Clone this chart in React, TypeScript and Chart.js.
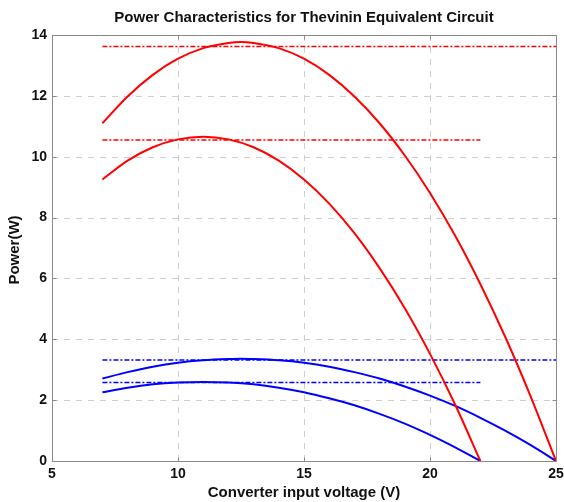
import React, { useEffect, useRef } from "react";
import { Chart, registerables } from "chart.js";

Chart.register(...registerables);

// Converter input voltage samples (V) for the two open-circuit voltages
const voltsOc25 = [7, 8, 9, 10, 11, 12, 12.5, 13, 14, 15, 16, 17, 18, 19, 20, 21, 22, 23, 24, 25];
const voltsOc22 = [7, 8, 9, 10, 11, 12, 13, 14, 15, 16, 17, 18, 19, 20, 21, 22];

// Power curves (W)
const redHigh = [11.1, 11.98, 12.69, 13.22, 13.57, 13.74, 13.77, 13.74, 13.57, 13.22, 12.69, 11.98, 11.1, 10.04, 8.81, 7.4, 5.81, 4.05, 2.11, 0];
const redLow = [9.25, 9.87, 10.31, 10.57, 10.66, 10.57, 10.31, 9.87, 9.25, 8.46, 7.49, 6.34, 5.02, 3.52, 1.85, 0];
const blueHigh = [2.71, 2.92, 3.1, 3.23, 3.31, 3.35, 3.36, 3.35, 3.31, 3.23, 3.1, 2.92, 2.71, 2.45, 2.15, 1.81, 1.42, 0.99, 0.52, 0];
const blueLow = [2.26, 2.41, 2.52, 2.58, 2.6, 2.58, 2.52, 2.41, 2.26, 2.06, 1.83, 1.55, 1.23, 0.86, 0.45, 0];

// Maximum power reference levels (W) and their voltage spans
const mppSpan25 = [7, 25];
const mppSpan22 = [7, 22];
const mppRed = [13.62, 10.55];
const mppBlue = [3.32, 2.58];

const xTicks = [5, 10, 15, 20, 25];
const yTicks = [0, 2, 4, 6, 8, 10, 12, 14];

const TITLE = "Power Characteristics for Thevinin Equivalent Circuit";
const X_TITLE = "Converter input voltage (V)";
const Y_TITLE = "Power(W)";

const FONT = '"Liberation Sans", Arial, Helvetica, sans-serif';
const RED = "#ff0000";
const BLUE = "#0000ff";

const pts = (xs: number[], ys: number[]) => xs.map((x, i) => ({ x, y: ys[i] }));
const level = (span: number[], y: number) => span.map((x) => ({ x, y }));

const curve = (data: { x: number; y: number }[], color: string) => ({
  data,
  borderColor: color,
  borderWidth: 2,
  pointRadius: 0,
  showLine: true,
  fill: false,
  cubicInterpolationMode: "monotone" as const,
});

const dashDot = (data: { x: number; y: number }[], color: string) => ({
  data,
  borderColor: color,
  borderWidth: 1.6,
  borderDash: [5, 2, 2, 2],
  pointRadius: 0,
  showLine: true,
  fill: false,
});

// Dashed grid, box frame with inner ticks, and the text around the plot
const framePlugin = {
  id: "frame",
  beforeDatasetsDraw(chart: any) {
    const { ctx, chartArea: a, scales } = chart;
    ctx.save();
    ctx.strokeStyle = "#cfcfcf";
    ctx.lineWidth = 1;
    ctx.setLineDash([6, 6]);
    xTicks.slice(1, -1).forEach((v) => {
      const x = Math.round(scales.x.getPixelForValue(v)) + 0.5;
      ctx.beginPath();
      ctx.moveTo(x, a.top);
      ctx.lineTo(x, a.bottom);
      ctx.stroke();
    });
    yTicks.slice(1, -1).forEach((v) => {
      const y = Math.round(scales.y.getPixelForValue(v)) + 0.5;
      ctx.beginPath();
      ctx.moveTo(a.left, y);
      ctx.lineTo(a.right, y);
      ctx.stroke();
    });
    ctx.restore();
  },
  afterDatasetsDraw(chart: any) {
    const { ctx, chartArea: a, scales } = chart;
    ctx.save();
    ctx.strokeStyle = "#8a8a8a";
    ctx.lineWidth = 1;
    ctx.setLineDash([]);
    const L = Math.round(a.left) + 0.5;
    const T = Math.round(a.top) + 0.5;
    const R = Math.round(a.right) + 0.5;
    const B = Math.round(a.bottom) + 0.5;
    ctx.strokeRect(L, T, R - L, B - T);
    const tick = 4;
    ctx.beginPath();
    xTicks.forEach((v) => {
      const x = Math.round(scales.x.getPixelForValue(v)) + 0.5;
      ctx.moveTo(x, B);
      ctx.lineTo(x, B - tick);
      ctx.moveTo(x, T);
      ctx.lineTo(x, T + tick);
    });
    yTicks.forEach((v) => {
      const y = Math.round(scales.y.getPixelForValue(v)) + 0.5;
      ctx.moveTo(L, y);
      ctx.lineTo(L + tick, y);
      ctx.moveTo(R, y);
      ctx.lineTo(R - tick, y);
    });
    ctx.stroke();

    ctx.fillStyle = "#111";
    ctx.textAlign = "center";
    ctx.textBaseline = "middle";
    ctx.font = `bold 15px ${FONT}`;
    ctx.fillText(TITLE, (a.left + a.right) / 2, 18);
    ctx.fillText(X_TITLE, (a.left + a.right) / 2, 493);
    ctx.translate(15, 250);
    ctx.rotate(-Math.PI / 2);
    ctx.fillText(Y_TITLE, 0, 0);
    ctx.restore();
  },
};

export default function App() {
  const canvasRef = useRef<HTMLCanvasElement | null>(null);

  useEffect(() => {
    if (!canvasRef.current) return;
    const tickFont = { family: FONT, size: 14, weight: "bold" as const };
    const chart = new Chart(canvasRef.current, {
      type: "scatter",
      data: {
        datasets: [
          curve(pts(voltsOc25, redHigh), RED),
          curve(pts(voltsOc22, redLow), RED),
          curve(pts(voltsOc25, blueHigh), BLUE),
          curve(pts(voltsOc22, blueLow), BLUE),
          dashDot(level(mppSpan25, mppRed[0]), RED),
          dashDot(level(mppSpan22, mppRed[1]), RED),
          dashDot(level(mppSpan25, mppBlue[0]), BLUE),
          dashDot(level(mppSpan22, mppBlue[1]), BLUE),
        ],
      },
      options: {
        animation: false,
        responsive: false,
        maintainAspectRatio: false,
        layout: { padding: { top: 35, right: 8, left: 0, bottom: 0 } },
        plugins: { legend: { display: false }, tooltip: { enabled: false }, title: { display: false } },
        scales: {
          x: {
            type: "linear",
            min: 5,
            max: 25,
            afterBuildTicks: (s: any) => {
              s.ticks = xTicks.map((v) => ({ value: v }));
            },
            afterFit: (s: any) => {
              s.height = 41;
              s.paddingLeft = 0;
              s.paddingRight = 0;
            },
            grid: { display: false, drawTicks: false },
            border: { display: false },
            ticks: { color: "#111", font: tickFont, padding: 5, maxRotation: 0 },
          },
          y: {
            type: "linear",
            min: 0,
            max: 14,
            afterBuildTicks: (s: any) => {
              s.ticks = yTicks.map((v) => ({ value: v }));
            },
            afterFit: (s: any) => {
              s.width = 52;
              s.paddingTop = 0;
              s.paddingBottom = 0;
            },
            grid: { display: false, drawTicks: false },
            border: { display: false },
            ticks: { color: "#111", font: tickFont, padding: 5 },
          },
        },
      },
      plugins: [framePlugin],
    });
    return () => chart.destroy();
  }, []);

  return (
    <div style={{ position: "fixed", left: 0, top: 0, width: 564, height: 502, background: "#fff" }}>
      <canvas ref={canvasRef} width={564} height={502} style={{ display: "block" }} />
    </div>
  );
}
